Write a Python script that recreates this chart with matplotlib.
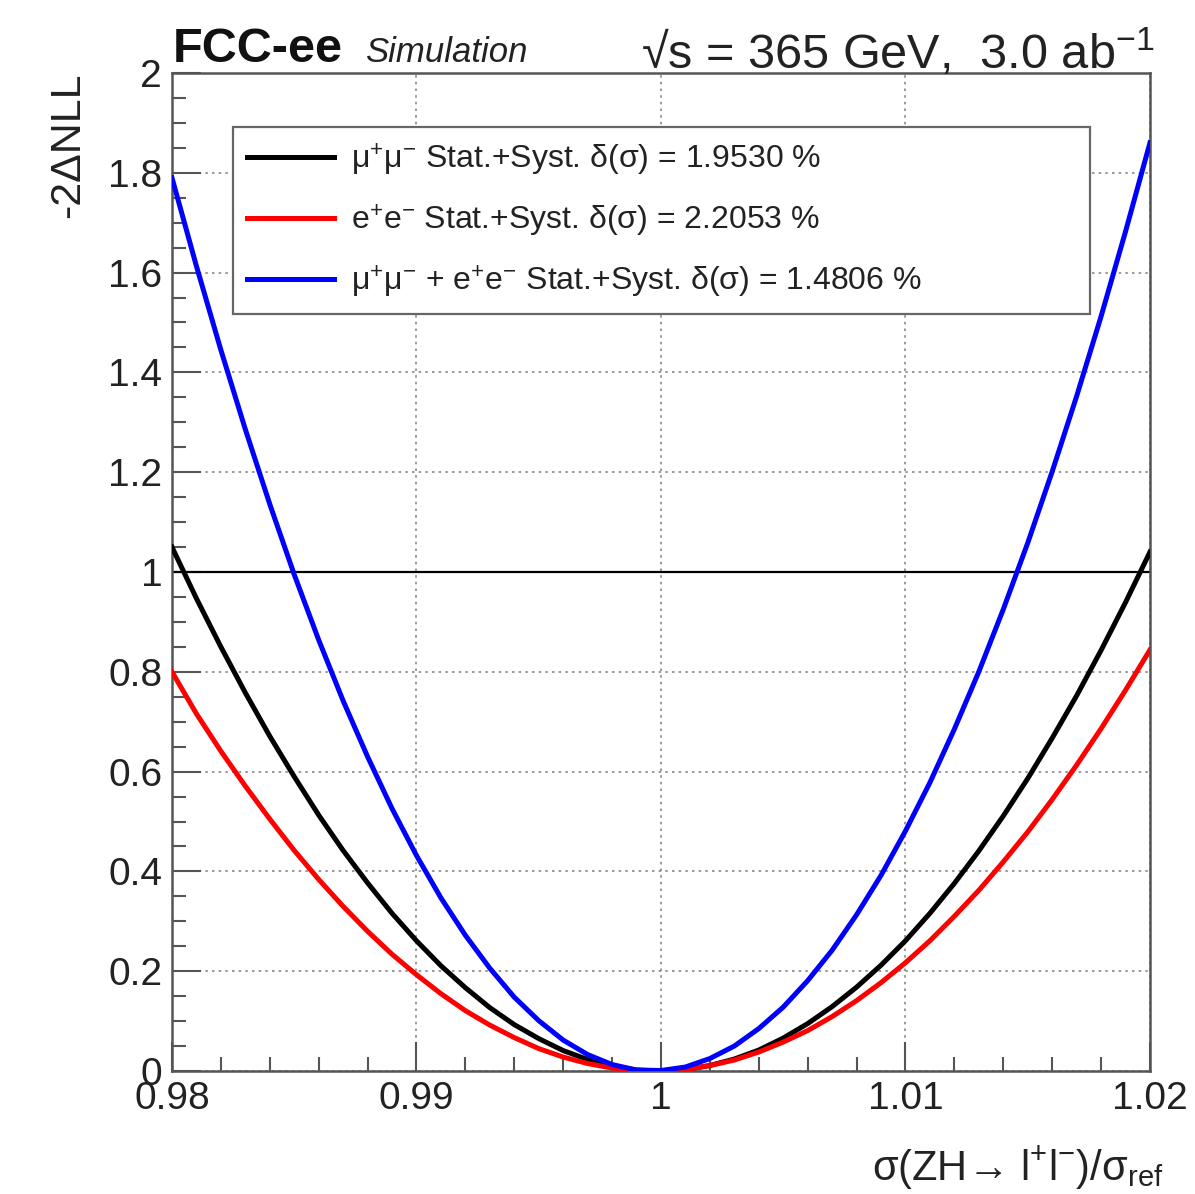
import matplotlib
matplotlib.use("Agg")
import matplotlib.pyplot as plt
from matplotlib.ticker import MultipleLocator

plt.rcParams['font.family'] = ['Liberation Sans', 'DejaVu Sans']
plt.rcParams['mathtext.fontset'] = 'custom'
plt.rcParams['mathtext.rm'] = 'Liberation Sans'
plt.rcParams['mathtext.it'] = 'Liberation Sans:italic'
plt.rcParams['mathtext.bf'] = 'Liberation Sans:bold'

# scan points
x_scan = [0.980, 0.981, 0.982, 0.983, 0.984, 0.985, 0.986, 0.987, 0.988, 0.989,
          0.990, 0.991, 0.992, 0.993, 0.994, 0.995, 0.996, 0.997, 0.998, 0.999,
          1.000, 1.001, 1.002, 1.003, 1.004, 1.005, 1.006, 1.007, 1.008, 1.009,
          1.010, 1.011, 1.012, 1.013, 1.014, 1.015, 1.016, 1.017, 1.018, 1.019,
          1.020]
nll_mumu = [1.050, 0.947, 0.850, 0.758, 0.671, 0.590, 0.513, 0.442, 0.377, 0.316,
            0.261, 0.211, 0.167, 0.127, 0.093, 0.065, 0.041, 0.023, 0.010, 0.002,
            0.000, 0.003, 0.011, 0.024, 0.042, 0.066, 0.095, 0.129, 0.168, 0.212,
            0.261, 0.316, 0.376, 0.441, 0.511, 0.586, 0.667, 0.752, 0.843, 0.939,
            1.040]
nll_ee = [0.800, 0.716, 0.641, 0.571, 0.505, 0.442, 0.384, 0.330, 0.280, 0.234,
          0.193, 0.155, 0.121, 0.092, 0.067, 0.045, 0.028, 0.015, 0.006, 0.001,
          0.000, 0.003, 0.011, 0.022, 0.038, 0.058, 0.081, 0.109, 0.141, 0.177,
          0.217, 0.261, 0.310, 0.362, 0.419, 0.479, 0.544, 0.613, 0.686, 0.763,
          0.844]
nll_comb = [1.790, 1.613, 1.445, 1.286, 1.136, 0.995, 0.864, 0.742, 0.630, 0.526,
            0.432, 0.347, 0.272, 0.206, 0.148, 0.101, 0.062, 0.033, 0.013, 0.002,
            0.001, 0.008, 0.025, 0.050, 0.085, 0.128, 0.181, 0.242, 0.313, 0.392,
            0.481, 0.578, 0.685, 0.800, 0.925, 1.058, 1.201, 1.352, 1.512, 1.682,
            1.860]

labels = [
    "μ$^{+}$μ$^{-}$ Stat.+Syst. δ(σ) = 1.9530 %",
    "e$^{+}$e$^{-}$ Stat.+Syst. δ(σ) = 2.2053 %",
    "μ$^{+}$μ$^{-}$ + e$^{+}$e$^{-}$ Stat.+Syst. δ(σ) = 1.4806 %",
]
colors = ['black', '#ff0000', '#0000ff']

fig = plt.figure(figsize=(11.95, 11.94), dpi=100)
ax = fig.add_axes([0.1439, 0.1030, 0.8184, 0.8359])
ax.set_axisbelow(True)

for y, lab, c in zip([nll_mumu, nll_ee, nll_comb], labels, colors):
    ax.plot(x_scan, y, color=c, lw=3.6, label=lab, zorder=3)

ax.axhline(1.0, color='black', lw=1.6, zorder=2)

ax.set_xlim(0.98, 1.02)
ax.set_ylim(0, 2)
ax.xaxis.set_minor_locator(MultipleLocator(0.002))
ax.yaxis.set_minor_locator(MultipleLocator(0.05))
ax.set_xticks([0.98, 0.99, 1.0, 1.01, 1.02])
ax.set_xticklabels(["0.98", "0.99", "1", "1.01", "1.02"])
ax.set_yticks([0, 0.2, 0.4, 0.6, 0.8, 1.0, 1.2, 1.4, 1.6, 1.8, 2.0])
ax.set_yticklabels(["0", "0.2", "0.4", "0.6", "0.8", "1", "1.2", "1.4", "1.6", "1.8", "2"])

ax.grid(True, which='major', ls=(0, (1.5, 2.5)), color='#888888', lw=1.2)
ax.tick_params(which='both', direction='in', top=False, right=False,
               color='#555555', labelsize=28, labelcolor='#222222')
ax.tick_params(which='major', length=21, width=1.5, pad=7)
ax.tick_params(which='minor', length=10, width=1.5)
for s in ax.spines.values():
    s.set_color('#555555')
    s.set_linewidth(1.8)

leg = ax.legend(loc='upper left', bbox_to_anchor=(0.0624, 0.7655, 0.8763, 0.1804),
                mode='expand', borderaxespad=0, fontsize=23, handlelength=2.7,
                handletextpad=0.55, labelspacing=0.78, borderpad=0.45,
                fancybox=False, framealpha=1, edgecolor='#666666')
leg.get_frame().set_linewidth(1.6)
for t in leg.get_texts():
    t.set_color('#222222')

fig.text(68 / 1195, 1 - 73 / 1194, "-2ΔNLL", rotation=90, ha='center', va='top',
         fontsize=31, color='#222222')
fig.text(1163 / 1195, 1 - 1180 / 1194, "σ(ZH→ l$^{+}$l$^{-}$)/σ$_{\\mathrm{ref}}$",
         ha='right', va='baseline', fontsize=30, color='#222222')

fig.text(173 / 1195, 1 - 62 / 1194, "FCC-ee", fontsize=35, fontweight='bold',
         ha='left', va='baseline', color='#111111')
fig.text(365 / 1195, 1 - 62 / 1194, "Simulation", fontsize=25, fontstyle='italic',
         ha='left', va='baseline', color='#222222')
fig.text(1155 / 1195, 1 - 69 / 1194, "√s = 365 GeV,  3.0 ab$^{-1}$", fontsize=35,
         ha='right', va='baseline', color='#222222')

fig.savefig("out.png", dpi=100)
